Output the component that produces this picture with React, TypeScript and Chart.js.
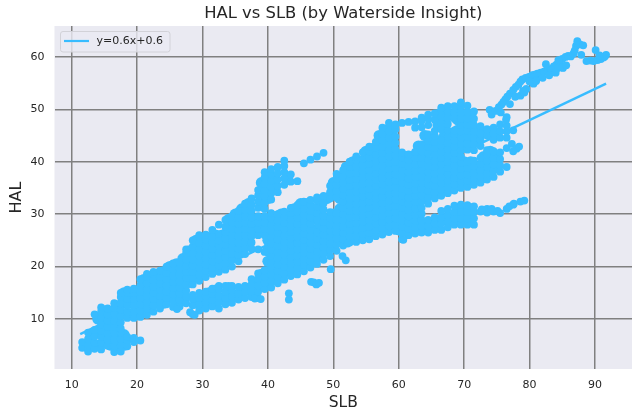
import React, { useEffect, useRef } from "react";
import { Chart, registerables } from "chart.js";

Chart.register(...registerables);

const chartTitle = "HAL vs SLB (by Waterside Insight)";
const xTitle = "SLB";
const yTitle = "HAL";
const fitLabel = "y=0.6x+0.6";
const xTicks = [10, 20, 30, 40, 50, 60, 70, 80, 90];
const yTicks = [10, 20, 30, 40, 50, 60];
const fitSlb = [11.3, 91.7];
const fitHal = [7.1, 54.9];

const slbLow = [11.6, 12.5, 13.5, 14.5, 15.5, 16.5, 17.5, 18.5, 19.5, 20.5, 21.5, 22.5, 23.5, 24.5, 25.5, 26.5, 27.5, 28.5, 29.5];
const halLow = [
  [4.5, 5.6],
  [3.8, 5, 6.2, 7.4],
  [4.3, 5.5, 6.7, 7.9, 10.9],
  [4.2, 5.4, 6.6, 7.8, 9, 10.2, 11.4, 12.2],
  [4.9, 6.1, 7.3, 8.5, 9.7, 10.9, 12],
  [3.7, 4.9, 6.1, 7.3, 8.5, 9.7, 10.9, 12.1, 13],
  [3.8, 5, 6.2, 7.4, 8.2, 9.4, 10.6, 11.8, 13, 14.2, 15],
  [4.8, 6, 6.6, 10.2, 11.4, 12.6, 13.8, 15, 15.6],
  [5.6, 6.4, 10.2, 11.4, 12.6, 13.8, 15, 15.8],
  [5.9, 10.4, 11.6, 12.8, 14, 15.2, 16.4, 17.6],
  [10.8, 12, 13.2, 14.4, 15.6, 16.8, 18, 18.6],
  [11.4, 12.6, 13.8, 15, 16.2, 17.4, 18.6, 19],
  [12, 13.2, 14.4, 15.6, 16.8, 18, 19.2],
  [12.8, 14, 15.2, 16.4, 17.6, 18.8, 20],
  [12.3, 13.5, 14.7, 15.9, 17.1, 18.3, 19.5, 20.6],
  [12.4, 13.6, 14.8, 16, 17.2, 18.4, 19.6, 20.8],
  [13, 14.2, 15.4, 16.6, 17.8, 19, 20.2, 21.4, 22.6, 23.3],
  [10.9, 12.6, 13.8, 14.6, 16.6, 17.8, 19, 20.2, 21.4, 22.6, 23.8, 25],
  [11.6, 12.8, 14, 15, 17.3, 18.5, 19.7, 20.9, 22.1, 23.3, 24.5, 25.7, 26],
];

const slbMid = [30.5, 31.5, 32.5, 33.5, 34.5, 35.5, 36.5, 37.5, 38.5, 39.5, 40.5, 41.5, 42.5, 43.5, 44.5, 45.5, 46.5, 47.5, 48.5, 49.5];
const halMid = [
  [12, 13.2, 14.4, 15.2, 18, 19.2, 20.4, 21.6, 22.8, 24, 25.2, 26.1],
  [12.4, 13.6, 14.8, 15.8, 18.6, 19.8, 21, 22.2, 23.4, 24.6, 25.6, 27],
  [12, 13.2, 14.4, 15.6, 16.3, 19, 20.2, 21.4, 22.6, 23.8, 25, 26.2, 28],
  [12.8, 14, 15.2, 16.3, 19.4, 20.6, 21.8, 23, 24.2, 25.4, 26.6, 27.6, 28.9],
  [13.1, 14.3, 15.5, 16.3, 20, 21.2, 22.4, 23.6, 24.8, 26, 27.2, 28.4, 29.6],
  [13.7, 14.9, 16.1, 21, 22.2, 23.4, 24.6, 25.8, 27, 28.2, 29.4, 30.6],
  [14, 15.2, 16.3, 22.4, 23.6, 24.8, 26, 27.2, 28.4, 29.6, 30.8, 32],
  [14.2, 15.4, 16.6, 17.6, 23.4, 24.6, 25.8, 27, 28.2, 29.4, 30.6, 31.8, 33],
  [14, 15.2, 16.4, 17.6, 18.7, 23.3, 26, 27.2, 28.4, 29.6, 31.2, 32.4, 33.6, 34.6],
  [15.7, 16.9, 18.1, 19.3, 22.8, 26, 27.2, 28.4, 29.6, 31, 32.2, 33.4, 34.6, 35.8, 37, 38],
  [16, 17.2, 18.4, 19.6, 20.8, 22, 23.2, 24.4, 25.6, 26.8, 28, 29.2, 30.2, 32.8, 34, 35.2, 36.4, 37.6, 38.6],
  [16.8, 18, 19.2, 20.4, 21.6, 22.8, 24, 25.2, 26.4, 27.6, 28.8, 30, 34.2, 35.4, 36.6, 37.8, 39],
  [17.5, 18.7, 19.9, 21.1, 22.3, 23.5, 24.7, 25.9, 27.1, 28.3, 29.5, 30.5, 35.6, 36.8, 38, 39.2, 40.2],
  [18.2, 19.4, 20.6, 21.8, 23, 24.2, 25.4, 26.6, 27.8, 29, 30.2, 31.2, 36.2, 37.6],
  [18.5, 19.7, 20.9, 22.1, 23.3, 24.5, 25.7, 26.9, 28.1, 29.3, 30.5, 31.7, 36.3],
  [19.1, 20.3, 21.5, 22.7, 23.9, 25.1, 26.3, 27.5, 28.7, 29.9, 31.1, 32.4, 39.7],
  [19.8, 21, 22.2, 23.4, 24.6, 25.8, 27, 28.2, 29.4, 30.6, 31.8, 32.7, 40.4],
  [20.5, 21.7, 22.9, 24.1, 25.3, 26.5, 29, 30.2, 31.4, 32.6, 33.2, 41],
  [21.3, 22.5, 23.7, 24.9, 26.1, 27.3, 28.5, 29.7, 30.9, 32.1, 33.5, 41.7],
  [22, 23.2, 24.4, 25.6, 26.8, 28, 29.2, 30.4, 33, 34.2, 35.4],
];

const slbHigh = [50.5, 51.5, 52.5, 53.5, 54.5, 55.5, 56.5, 57.5, 58.5, 59.5, 60.5, 61.5, 62.5, 63.5, 64.5, 65.5, 66.5, 67.5, 68.5, 69.5, 70.5, 71.5, 72.5, 73.5, 74.5, 75.5, 76.5, 77.5];
const halHigh = [
  [23, 24.2, 25.4, 26.6, 27.8, 29, 30.2, 33.2, 34.4, 35.6, 36.8, 37.7],
  [24, 25.2, 26.4, 27.6, 28.8, 30, 31.2, 32.4, 33.6, 34.8, 36, 37.2, 38.4],
  [24.6, 25.8, 27, 28.2, 29.4, 30.6, 31.8, 33, 34.2, 35.4, 36.6, 37.8, 39, 40],
  [24.7, 25.9, 27.1, 28.3, 29.5, 30.7, 31.9, 33.1, 34.3, 35.5, 36.7, 37.9, 39.1, 40.3, 41],
  [25, 26.2, 27.4, 28.6, 29.8, 31, 32.2, 33.4, 34.6, 35.8, 37, 38.2, 39.4, 40.6, 41.8],
  [25.2, 26.4, 27.6, 28.8, 30, 31.2, 32.4, 33.6, 34.8, 36, 37.2, 38.4, 39.6, 40.8, 42, 42.9],
  [25.8, 27, 28.2, 29.4, 30.6, 31.8, 33, 34.2, 35.4, 36.6, 37.8, 39, 40.2, 41.4, 42.6, 43.8],
  [26.1, 27.3, 28.5, 29.7, 30.9, 32.1, 33.3, 34.5, 35.7, 36.9, 38.1, 39.3, 40.5, 41.7, 42.9, 44.1, 45.3, 46.5],
  [26.6, 27.8, 29, 30.2, 31.4, 32.6, 33.8, 35, 36.2, 37.4, 38.6, 39.8, 41, 42.2, 43.4, 44.6, 45.8, 47.4],
  [26.8, 28, 29.2, 30.4, 31.6, 32.8, 34, 35.2, 36.4, 37.6, 38.8, 40, 41.2, 42.4, 43.6, 44.8, 46.2, 47.1],
  [25.2, 26.4, 27.6, 28.8, 30, 31.2, 32.4, 33.6, 34.8, 36, 37.2, 38.4, 39.6, 40.8, 41.8, 47.4],
  [26, 27.2, 28.4, 29.6, 30.8, 32, 33.2, 34.4, 35.6, 36.8, 38, 39.2, 40.4, 41.4, 47.6],
  [26.3, 27.5, 28.7, 29.9, 31.1, 32.3, 33.5, 34.7, 35.9, 37.1, 38.3, 39.5, 40.7, 41.9, 46.5, 47.7],
  [26.5, 27.7, 28.9, 30.1, 31.2, 32.4, 33.6, 34.8, 36, 37.2, 38.4, 39.6, 40.8, 42, 43.3, 46.6, 47.8, 48.4],
  [26.5, 27.7, 28.9, 32, 33.2, 34.4, 35.6, 36.8, 38, 39.2, 40.4, 41.6, 42.8, 44, 45.2, 47, 48.2, 49],
  [27, 28.2, 29.4, 33, 34.2, 35.4, 36.6, 37.8, 39, 40.2, 41.4, 42.6, 43.8, 45, 45.9, 48, 49.2],
  [27, 28.2, 29.4, 30.6, 33.5, 34.7, 35.9, 37.1, 38.3, 39.5, 40.7, 41.9, 43.1, 44, 46.2, 47.4, 48.6, 49.8, 50.3],
  [27.5, 28.7, 29.9, 31, 34, 35.2, 36.4, 37.6, 38.8, 40, 41.2, 42.4, 43.6, 44.8, 46, 47.2, 48.4, 49.6, 50.6],
  [28, 29.2, 30.4, 31.6, 34.5, 35.7, 36.9, 38.1, 39.3, 40.5, 41.7, 42.9, 44.1, 45.3, 46, 48.2, 49.4, 50.6],
  [28, 29.2, 30.4, 31.8, 35, 36.2, 37.4, 38.6, 39.8, 41, 42.2, 43.4, 44.6, 45.8, 47, 48.2, 49.4, 50.6, 51.3],
  [28, 29.2, 30.4, 31.7, 35.2, 36.4, 37.6, 38.8, 40, 42.3, 43.5, 44.7, 45.9, 47.1, 48.3, 49.5, 50.7],
  [28, 29.2, 30.4, 31.5, 35.6, 36.8, 38, 39.2, 40.2, 42.2, 43.4, 44.6, 45.8, 47, 48.2, 49.6],
  [30.5, 36, 37.2, 38.4, 39.6, 40.8, 43, 44.2, 45.4, 46.8],
  [31, 30.3, 36.6, 37.8, 39, 40.2, 41.4, 42.2, 45, 46.2],
  [30.5, 37.1, 38.3, 39.5, 40.7, 42, 44.2, 45.4, 46.5],
  [30.2, 38.1, 39.3, 40.5, 41.8, 44.6, 45.8, 47.1],
  [31, 39, 42.6, 44.6, 45.8, 46.9],
  [31.8, 42, 46],
];

const slbEarly = [13, 14, 15, 16, 17, 18, 19, 20, 21, 22, 23, 24, 25, 26, 27, 28, 29, 30, 31, 32, 33, 34, 35, 36, 37, 38, 39];
const halEarly = [
  [5, 7],
  [5, 7.5, 10],
  [5.5, 7.5, 9.5, 11.5],
  [5, 7, 9, 11],
  [4.5, 6.5, 8.5, 10.5, 12.5],
  [5, 7, 11, 13, 15],
  [11, 13, 15],
  [11, 13, 15],
  [11.5, 13.5, 15.5, 17.5],
  [12, 14, 16, 18],
  [13, 15, 17, 18.5],
  [13, 15, 17, 19],
  [14, 16, 18, 20],
  [13, 15, 17, 19, 20.5],
  [13.5, 15.5, 17.5, 19.5, 21.5],
  [17, 19, 21, 23],
  [13, 18, 20, 22, 24, 25],
  [13, 19, 21, 23, 25],
  [13, 15, 19.5, 21.5, 23.5, 25.5],
  [13.5, 15.5, 20, 22, 24, 26],
  [14, 20, 22, 24, 26],
  [14, 16, 21, 23, 25, 27, 29],
  [14.5, 22, 24, 26, 28, 30],
  [15, 23, 25, 27, 29, 31],
  [15.5, 24, 26, 28, 30, 32],
  [15, 17, 27, 29],
  [16.5, 18.5, 27, 29, 32, 34, 36],
];

const slbCore = [40, 41, 42, 43, 44, 45, 46, 47, 48, 49, 50, 51, 52, 53, 54, 55, 56, 57, 58, 59, 60, 61, 62, 63, 64, 65, 66, 67, 68, 69, 70, 71, 72, 73, 74, 75];
const halCore = [
  [17, 19, 21, 23, 25, 27, 29, 33, 35, 37],
  [17.5, 19.5, 21.5, 23.5, 25.5, 27.5, 29.5, 35, 37],
  [18, 20, 22, 24, 26, 28, 30],
  [19, 21, 23, 25, 27, 29, 37],
  [19, 21, 23, 25, 27, 29, 31],
  [20, 22, 24, 26, 28, 30, 32],
  [20.5, 22.5, 24.5, 26.5, 28.5, 30.5, 32],
  [21, 23, 25, 27, 29, 31],
  [22, 24, 26, 28, 30, 32],
  [23, 25, 27, 29, 33],
  [24, 26, 28, 30, 34, 36],
  [25, 27, 29, 31, 33, 35, 37],
  [25, 27, 29, 31, 33, 35, 37, 39],
  [26, 28, 30, 32, 34, 36, 38, 40],
  [26, 28, 30, 32, 34, 36, 38, 40],
  [26, 28, 30, 32, 34, 36, 38, 40, 42],
  [26.5, 28.5, 30.5, 32.5, 34.5, 36.5, 38.5, 40.5, 42.5],
  [27, 29, 31, 33, 35, 37, 39, 41, 43, 45],
  [27, 29, 31, 33, 35, 37, 39, 41, 43, 45, 46],
  [28, 30, 32, 34, 36, 38, 40, 42, 44, 46],
  [27, 29, 31, 33, 35, 37, 39, 41],
  [27, 29, 31, 33, 35, 37, 39, 41],
  [27, 29, 31, 33, 35, 37, 39, 41],
  [27, 29, 31, 33, 35, 37, 39, 41, 43],
  [27.5, 33, 35, 37, 39, 41, 43, 45],
  [28, 34, 36, 38, 40, 42, 44],
  [28, 34, 36, 38, 40, 42, 44, 47, 49],
  [29, 35, 37, 39, 41, 43, 45, 47, 49],
  [29, 35, 37, 39, 41, 43, 45, 49],
  [29, 31, 36, 38, 40, 42, 44, 46, 48, 50],
  [29, 31, 36, 38, 40, 43, 45, 47, 49],
  [29, 31, 36, 38, 40, 43, 45, 47, 49],
  [37, 39, 44, 46],
  [37, 39, 41, 45.5],
  [38, 40, 42, 45.5],
  [39, 41, 45.5],
];

const slbStream = [73.9, 74.2, 74.8, 75.3, 75.7, 75.6, 76, 76.3, 76.6, 76.4, 77, 77.5, 77.9, 78.3, 78.6, 78.9, 79.4, 79.9, 80.4, 80.8, 81.2, 81.7, 82.2, 82.8, 83.2, 83.7, 84.1, 84.6, 85, 85.5, 85.9, 86.3, 86.7, 85.1, 84.2, 83.3, 87.1, 87.3, 87.7, 88.2, 87.9, 86.9, 90.1, 88.7, 89.3, 89.8, 90.4, 90.9, 91.3, 91.7, 91.5, 90.7, 78.6, 79.2, 80.6, 81, 79.5, 77, 76.5, 77.8, 79, 80, 81, 82, 83, 84, 85, 85.6, 82.5, 84.4];
const halStream = [49.9, 49, 49.7, 50.4, 50.9, 49.4, 51.4, 51.9, 52.4, 48, 53, 53.7, 54.3, 54.7, 55.3, 55.7, 56, 56.2, 56.5, 56.6, 56.8, 57, 57.2, 57.4, 57.7, 58.2, 58.5, 59, 59.6, 60, 60.2, 60.1, 60.6, 57.9, 57.8, 57.5, 62.1, 63, 62.4, 62.2, 60.4, 61.2, 61.3, 59.2, 59.3, 59.2, 59.4, 59.6, 59.9, 60.4, 60.1, 60.3, 52.6, 53.2, 54.9, 55.6, 53.9, 51, 48.5, 52.4, 53.5, 55.3, 55.4, 56, 56.5, 57, 58, 58.4, 58.6, 59.4];

const slbStray = [26.1, 28.1, 28.8, 38, 38.9, 43.2, 43.2, 46.6, 47, 47.4, 47.8, 49.6, 51.4, 51.9, 60.7, 77.3, 78, 78.4, 72.7, 74.2, 75.1, 76.9, 77.6, 78.6, 79.2, 52.2];
const halStray = [11.9, 11.3, 10.8, 13.9, 13.8, 14.9, 13.7, 17.1, 17, 16.6, 16.9, 19.5, 22, 21.2, 25.1, 43.4, 42.5, 42.9, 30.9, 31, 30.6, 31.5, 32, 32.4, 32.6, 24.4];

const pointColor = "#38BCFF";

const pairUp = (xs: number[], ys: number[][]) =>
  xs.flatMap((x, i) => ys[i].map((y) => ({ x, y })));

const legendBox = {
  id: "legendBox",
  afterDatasetsDraw(chart: any) {
    const c = chart.ctx;
    c.save();
    c.beginPath();
    c.roundRect(60.5, 31.5, 109.5, 20.5, 2.5);
    c.fillStyle = "rgba(234,234,242,0.8)";
    c.fill();
    c.strokeStyle = "#d2d2d8";
    c.lineWidth = 1;
    c.stroke();
    c.beginPath();
    c.moveTo(64, 41);
    c.lineTo(89, 41);
    c.strokeStyle = "#38BCFF";
    c.lineWidth = 2.2;
    c.stroke();
    c.fillStyle = "#262626";
    c.font = "11px 'DejaVu Sans'";
    c.textBaseline = "middle";
    c.fillText(fitLabel, 96.5, 41.5);
    c.restore();
  },
};

export default function App() {
  const ref = useRef<HTMLCanvasElement>(null);
  useEffect(() => {
    document.body.style.margin = "0";
    const outer = [
      ...pairUp(slbLow, halLow),
      ...pairUp(slbMid, halMid),
      ...pairUp(slbHigh, halHigh),
      ...slbStream.map((x, i) => ({ x, y: halStream[i] })),
      ...slbStray.map((x, i) => ({ x, y: halStray[i] })),
    ];
    const inner = [...pairUp(slbEarly, halEarly), ...pairUp(slbCore, halCore)];
    const chart = new Chart(ref.current!, {
      type: "scatter",
      data: {
        datasets: [
          {
            label: "SLB/HAL",
            data: outer,
            pointRadius: 3.9,
            pointBorderWidth: 0,
            pointBackgroundColor: pointColor,
          },
          {
            label: "SLB/HAL dense",
            data: inner,
            pointRadius: 5.6,
            pointBorderWidth: 0,
            pointBackgroundColor: pointColor,
          },
          {
            label: fitLabel,
            type: "line",
            data: fitSlb.map((x, i) => ({ x, y: fitHal[i] })),
            borderColor: "#38BCFF",
            borderWidth: 2.4,
            pointRadius: 0,
          },
        ],
      } as any,
      plugins: [legendBox],
      options: {
        animation: false,
        responsive: false,
        devicePixelRatio: 1,
        layout: { padding: { top: 0, right: 8, left: 0, bottom: 0 } },
        plugins: {
          legend: { display: false },
          tooltip: { enabled: false },
          title: {
            display: true,
            fullSize: false,
            text: chartTitle,
            color: "#262626",
            font: { family: "'DejaVu Sans'", size: 16.4, weight: "normal" },
            padding: { top: 4, bottom: 2.3 },
          },
        },
        scales: {
          x: {
            type: "linear",
            min: 7.37,
            max: 95.66,
            afterBuildTicks: (s: any) => {
              s.ticks = xTicks.map((value) => ({ value }));
            },
            afterFit: (s: any) => {
              s.height = 45;
            },
            border: { display: false },
            grid: { color: "#808080", lineWidth: 1.5, drawTicks: false },
            ticks: {
              color: "#262626",
              padding: 10,
              maxRotation: 0,
              font: { family: "'DejaVu Sans'", size: 11 },
            },
            title: {
              display: true,
              text: xTitle,
              color: "#262626",
              padding: { top: 0, bottom: 2 },
              font: { family: "'DejaVu Sans'", size: 15.5, weight: "normal" },
            },
          },
          y: {
            type: "linear",
            min: 0.46,
            max: 65.9,
            afterBuildTicks: (s: any) => {
              s.ticks = yTicks.map((value) => ({ value }));
            },
            afterFit: (s: any) => {
              s.width = 54.5;
            },
            border: { display: false },
            grid: { color: "#808080", lineWidth: 1.5, drawTicks: false },
            ticks: {
              color: "#262626",
              padding: 10,
              font: { family: "'DejaVu Sans'", size: 11 },
            },
            title: {
              display: true,
              text: yTitle,
              color: "#262626",
              padding: { top: 7, bottom: 0 },
              font: { family: "'DejaVu Sans'", size: 16, weight: "normal" },
            },
          },
        },
      } as any,
    } as any);
    return () => chart.destroy();
  }, []);
  return (
    <div style={{ width: 640, height: 414, background: "#fff" }}>
      <canvas ref={ref} width={640} height={414} style={{ display: "block" }} />
    </div>
  );
}

Chart.register({
  id: "plotBackground",
  beforeDraw(chart: any) {
    const { ctx, chartArea: a } = chart;
    ctx.save();
    ctx.fillStyle = "#EAEAF2";
    ctx.fillRect(a.left, a.top, a.width, a.height);
    ctx.restore();
  },
});
